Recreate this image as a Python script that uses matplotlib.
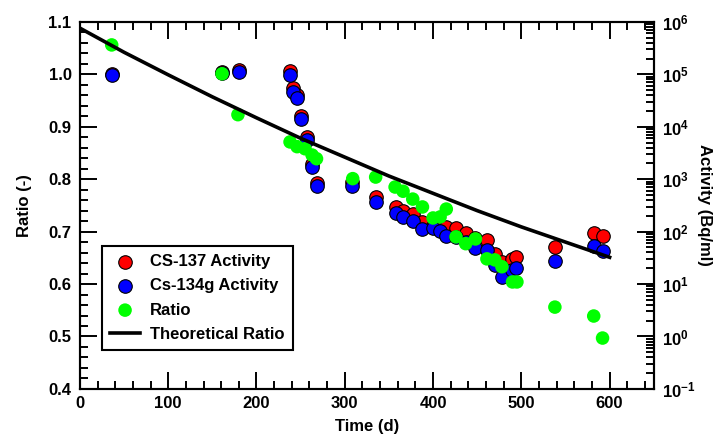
"""Cs-137 / Cs-134 activity and activity ratio versus time."""

import math

import matplotlib
matplotlib.use('Agg')
import matplotlib.pyplot as plt
from matplotlib.ticker import MultipleLocator, LogLocator, FuncFormatter, NullFormatter

plt.rcParams['font.family'] = ['Liberation Sans', 'DejaVu Sans']
plt.rcParams['font.weight'] = 'bold'
plt.rcParams['font.size'] = 12
plt.rcParams['mathtext.fontset'] = 'custom'
plt.rcParams['mathtext.rm'] = 'Liberation Sans:bold'
plt.rcParams['mathtext.bf'] = 'Liberation Sans:bold'

# sample times (d) for the activity measurements
act_time = [36, 161, 180, 238, 241, 246, 250, 257, 263, 268, 308, 335, 358, 366,
            377, 388, 400, 408, 415, 426, 437, 448, 461, 470, 478, 489, 494,
            538, 582, 592]
# activities (Bq/ml)
cs137 = [1.02e5, 1.11e5, 1.21e5, 1.16e5, 5.5e4, 4.06e4, 1.61e4, 6.41e3, 1.96e3,
         849, 887, 459, 296, 248, 218, 153, 128, 118, 123, 118, 94.6, 75.9,
         69.5, 37.6, 26.4, 30.2, 33.0, 51.2, 94.6, 82.8]
cs134 = [9.75e4, 1.06e5, 1.11e5, 9.75e4, 4.62e4, 3.55e4, 1.41e4, 5.61e3, 1.71e3,
         745, 745, 369, 228, 191, 160, 113, 118, 103, 82.8, 79.3, 63.7, 48.9,
         44.8, 23.2, 13.7, 18.6, 20.3, 27.7, 53.5, 42.9]

# measured ratio
ratio_time = [36, 161, 179, 238, 246, 255, 263, 268, 309, 335, 357, 366, 377,
              388, 400, 408, 415, 426, 437, 448, 461, 470, 478, 490, 495, 538,
              582, 592]
ratio = [1.056, 1.001, 0.923, 0.871, 0.862, 0.858, 0.846, 0.839, 0.801, 0.804,
         0.785, 0.777, 0.762, 0.747, 0.726, 0.728, 0.743, 0.690, 0.677, 0.686,
         0.648, 0.646, 0.633, 0.604, 0.604, 0.556, 0.539, 0.497]

# theoretical ratio curve
theo_time = [0, 50, 100, 150, 200, 250, 300, 350, 400, 450, 500, 550, 600]
theo_ratio = [1.088, 1.042, 0.999, 0.957, 0.917, 0.878, 0.842, 0.806, 0.773,
              0.740, 0.709, 0.680, 0.651]

fig = plt.figure(figsize=(7.2, 4.46), dpi=100)
ax = fig.add_axes([0.111, 0.128, 0.797, 0.823])
ax2 = ax.twinx()

# activities on the log axis (drawn underneath)
ax2.scatter(act_time, cs137, s=95, c='#ff0000', edgecolors='black', linewidths=0.8,
            label='CS-137 Activity', zorder=2)
ax2.scatter(act_time, cs134, s=95, c='#0000ff', edgecolors='black', linewidths=0.8,
            label='Cs-134g Activity', zorder=3)
ax2.set_yscale('log')
ax2.set_ylim(0.1, 1e6)

# ratio on the linear axis, on top
ax.set_zorder(ax2.get_zorder() + 1)
ax.patch.set_visible(False)
ax.scatter(ratio_time, ratio, s=95, c='#00ff00', edgecolors='none', label='Ratio', zorder=3)
ax.plot(theo_time, theo_ratio, color='black', lw=2.6, label='Theoretical Ratio', zorder=4)

ax.set_xlim(0, 650)
ax.set_ylim(0.4, 1.1)
ax.xaxis.set_major_locator(MultipleLocator(100))
ax.xaxis.set_minor_locator(MultipleLocator(20))
ax.yaxis.set_major_locator(MultipleLocator(0.1))
ax.yaxis.set_minor_locator(MultipleLocator(0.02))
ax.yaxis.set_major_formatter(FuncFormatter(lambda v, p: '%.1f' % v))

ax.tick_params(which='both', direction='in', top=True, right=False, width=1.4)
ax.tick_params(which='major', length=12, labelsize=12)
ax.tick_params(which='minor', length=6)
ax.tick_params(axis='y', pad=6)
ax.tick_params(axis='x', pad=5)

ax2.yaxis.set_major_locator(LogLocator(base=10, numticks=20))
ax2.yaxis.set_minor_locator(LogLocator(base=10, subs=range(2, 10), numticks=20))
ax2.yaxis.set_minor_formatter(NullFormatter())
ax2.yaxis.set_major_formatter(FuncFormatter(lambda v, p: r'$\mathbf{10^{%d}}$' % round(math.log10(v))))
ax2.tick_params(which='both', direction='in', width=1.4, labelsize=12, pad=6)
ax2.tick_params(which='major', length=12)
ax2.tick_params(which='minor', length=6)

for a in (ax, ax2):
    for sp in a.spines.values():
        sp.set_linewidth(1.5)

ax.set_xlabel('Time (d)', fontsize=12, fontweight='bold', labelpad=6)
ax.set_ylabel('Ratio (-)', fontsize=12, fontweight='bold', labelpad=12)
ax2.set_ylabel('Activity (Bq/ml)', fontsize=12, fontweight='bold', rotation=270, labelpad=12)

h1, l1 = ax2.get_legend_handles_labels()
h2, l2 = ax.get_legend_handles_labels()
leg = ax.legend(h1 + h2, l1 + l2, loc='lower left', bbox_to_anchor=(0.038, 0.106),
                borderaxespad=0, fancybox=False, framealpha=1, edgecolor='black',
                handlelength=1.8, labelspacing=0.55, borderpad=0.5, handletextpad=0.6,
                prop={'weight': 'bold', 'size': 12})
leg.get_frame().set_linewidth(1.5)

plt.savefig('out.png', dpi=100)
